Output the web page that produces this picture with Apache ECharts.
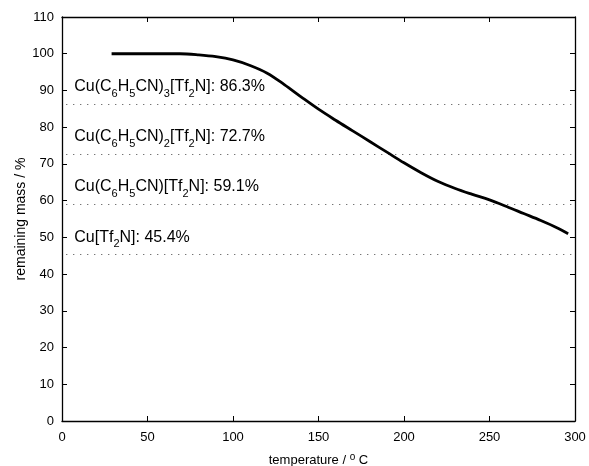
<!DOCTYPE html>
<html>
<head>
<meta charset="utf-8">
<script src="https://cdn.jsdelivr.net/npm/echarts@6/dist/echarts.min.js"></script>
<style>
  html, body { margin: 0; padding: 0; background: #fff; }
  #chart { width: 589px; height: 466px; }
</style>
</head>
<body>
<div id="chart"></div>
<script>
// Thermogravimetric curve: temperature (°C) vs remaining mass (%)
const temperature = [29, 40, 50, 60, 69, 80, 90, 100, 110, 120, 130, 140, 150, 160, 170, 180, 190, 200, 210, 220, 230, 240, 250, 260, 270, 280, 290, 296];
const mass        = [100, 100, 100, 100, 100, 99.7, 99.2, 98.3, 96.8, 94.7, 91.6, 88.2, 84.9, 81.9, 79.0, 76.1, 73.2, 70.3, 67.6, 65.2, 63.3, 61.7, 60.2, 58.4, 56.5, 54.6, 52.5, 51.0];

// Theoretical residual masses for successive loss of benzonitrile ligands
const levelFormulas = ['Cu(C_6H_5CN)_3[Tf_2N]', 'Cu(C_6H_5CN)_2[Tf_2N]', 'Cu(C_6H_5CN)[Tf_2N]', 'Cu[Tf_2N]'];
const levelValues   = [86.3, 72.7, 59.1, 45.4];
const levelStart = 2.5;
const levelEnd = 300;

const xTicks = { min: 0, max: 300, interval: 50 };
const yTicks = { min: 0, max: 110, interval: 10 };

const FONT = 'Liberation Sans, Arial, Helvetica, sans-serif';

// turn "X_6" notation into rich-text tokens with subscripts
function richFormula(f, v) {
  const body = f.replace(/_(\d)/g, '}{s|$1}{n|');
  return '{n|' + body + ': ' + v.toFixed(1) + '%}';
}

const chart = echarts.init(document.getElementById('chart'), null, { renderer: 'canvas' });

const axisLine = { show: true, onZero: false, lineStyle: { color: '#000', width: 1.3 } };
const axisTickIn = { show: true, inside: true, length: 5, lineStyle: { color: '#000', width: 1 } };

chart.setOption({
  animation: false,
  backgroundColor: '#fff',
  textStyle: { fontFamily: FONT },
  grid: { left: 62, right: 14, top: 17, bottom: 45, containLabel: false, outerBoundsMode: 'none' },
  xAxis: [
    {
      type: 'value', position: 'bottom', ...xTicks,
      axisLine, axisTick: axisTickIn, splitLine: { show: false },
      axisLabel: { color: '#000', fontSize: 13, fontFamily: FONT, margin: 10 },
      name: 'temperature / {sup|o} C',
      nameLocation: 'middle', nameGap: 31,
      nameTextStyle: {
        color: '#000', fontSize: 13, fontFamily: FONT,
        rich: { sup: { fontSize: 10, fontFamily: FONT, color: '#000', padding: [0, 0, 7, 0] } }
      }
    },
    {
      type: 'value', position: 'top', ...xTicks,
      axisLine, axisTick: axisTickIn, splitLine: { show: false },
      axisLabel: { show: false }
    }
  ],
  yAxis: [
    {
      type: 'value', position: 'left', ...yTicks,
      axisLine, axisTick: axisTickIn, splitLine: { show: false },
      axisLabel: { color: '#000', fontSize: 13, fontFamily: FONT, margin: 8 },
      name: 'remaining mass / %',
      nameLocation: 'middle', nameGap: 34, nameRotate: 90, nameMoveOverlap: false,
      nameTextStyle: { color: '#000', fontSize: 14, fontFamily: FONT }
    },
    {
      type: 'value', position: 'right', ...yTicks,
      axisLine, axisTick: axisTickIn, splitLine: { show: false },
      axisLabel: { show: false }
    }
  ],
  series: [
    {
      type: 'line',
      data: temperature.map((t, i) => [t, mass[i]]),
      showSymbol: false,
      smooth: 0.35,
      lineStyle: { color: '#000', width: 2.8 },
      z: 5,
      markLine: {
        silent: true,
        symbol: ['none', 'none'],
        lineStyle: { color: '#444', width: 1, type: [1, 6] },
        label: {
          show: true,
          position: 'insideStartTop',
          distance: [8, 9],
          color: '#000',
          fontFamily: FONT,
          rich: {
            n: { fontSize: 16, fontFamily: FONT, color: '#000', verticalAlign: 'top', lineHeight: 16 },
            s: { fontSize: 11, fontFamily: FONT, color: '#000', verticalAlign: 'top', lineHeight: 11, padding: [9.5, 0, 0, 0] }
          },
          formatter: (p) => richFormula(levelFormulas[p.dataIndex], levelValues[p.dataIndex])
        },
        data: levelValues.map(v => [{ coord: [levelStart, v] }, { coord: [levelEnd, v] }])
      }
    }
  ]
});
</script>
</body>
</html>
